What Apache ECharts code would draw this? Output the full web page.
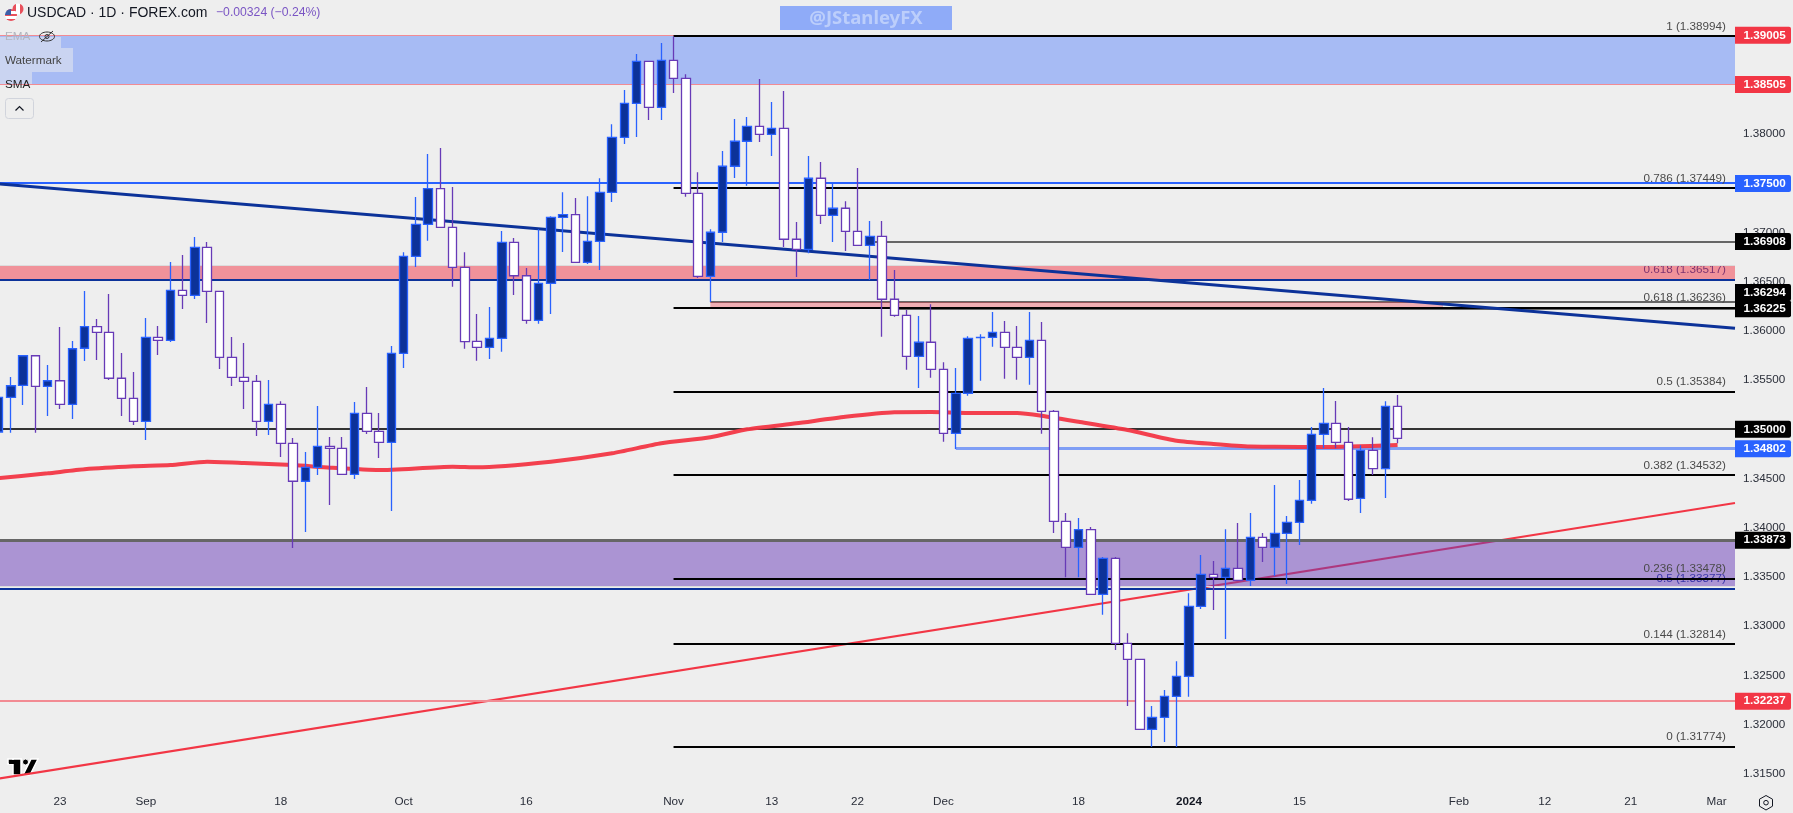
<!DOCTYPE html>
<html>
<head>
<meta charset="utf-8">
<title>USDCAD</title>
<style>
  html, body { margin: 0; padding: 0; background: #eeeeee; }
  #myChart { width: 1793px; height: 813px; }
</style>
<script src="https://cdn.jsdelivr.net/npm/echarts@6/dist/echarts.min.js"></script>
</head>
<body>
<div id="myChart"></div>
<script>
// daily bars, first one is 2023-08-16
const opens = [1.34973,1.35325,1.35447,1.35748,1.35437,1.35494,1.35254,1.35824,1.36043,1.35986,1.35519,1.35315,1.35081,1.35935,1.35905,1.36413,1.36362,1.36850,1.36403,1.35732,1.35529,1.35488,1.35081,1.35254,1.34858,1.34472,1.34614,1.34827,1.34807,1.34543,1.35163,1.34980,1.34868,1.35773,1.36759,1.37084,1.37446,1.37053,1.36647,1.35895,1.35834,1.35925,1.36901,1.36561,1.36108,1.36484,1.37155,1.37182,1.36698,1.36911,1.37409,1.37968,1.38314,1.38741,1.38273,1.38751,1.38568,1.37399,1.36555,1.37003,1.37674,1.37928,1.38080,1.37999,1.38060,1.36932,1.36830,1.37552,1.37175,1.37247,1.37013,1.36870,1.36962,1.36322,1.36159,1.35742,1.35885,1.35610,1.34959,1.35366,1.35933,1.35935,1.35986,1.35834,1.35732,1.35905,1.35183,1.34065,1.33801,1.33980,1.33323,1.33689,1.32825,1.32662,1.31951,1.32073,1.32286,1.32489,1.33201,1.33526,1.33496,1.33587,1.33465,1.33902,1.33801,1.33943,1.34055,1.34278,1.34949,1.35061,1.34868,1.34299,1.34787,1.34600,1.35234];
const closes = [1.35325,1.35443,1.35748,1.35437,1.35494,1.35254,1.35819,1.36043,1.35986,1.35519,1.35315,1.35081,1.35935,1.35905,1.36413,1.36362,1.36850,1.36403,1.35732,1.35529,1.35488,1.35081,1.35254,1.34858,1.34472,1.34614,1.34827,1.34807,1.34543,1.35163,1.34980,1.34868,1.35773,1.36759,1.37084,1.37446,1.37053,1.36647,1.35891,1.35834,1.35925,1.36901,1.36561,1.36108,1.36484,1.37155,1.37182,1.36698,1.36911,1.37409,1.37968,1.38314,1.38741,1.38273,1.38751,1.38568,1.37399,1.36555,1.37003,1.37674,1.37928,1.38080,1.37999,1.38060,1.36932,1.36830,1.37552,1.37175,1.37247,1.37013,1.36870,1.36962,1.36322,1.36159,1.35742,1.35885,1.35610,1.34959,1.35366,1.35925,1.35935,1.35986,1.35834,1.35732,1.35905,1.35183,1.34065,1.33801,1.33980,1.33323,1.33689,1.32825,1.32662,1.31951,1.32073,1.32286,1.32489,1.33201,1.33526,1.33496,1.33587,1.33465,1.33902,1.33801,1.33943,1.34055,1.34278,1.34949,1.35061,1.34868,1.34289,1.34787,1.34600,1.35234,1.34909];
const lows = [1.34891,1.34966,1.35247,1.34966,1.35135,1.35207,1.35105,1.35694,1.35705,1.35501,1.35135,1.35044,1.34891,1.35755,1.35888,1.36223,1.36325,1.36081,1.35613,1.35440,1.35207,1.34932,1.34942,1.34719,1.33794,1.33956,1.34536,1.34231,1.34543,1.34495,1.34952,1.34708,1.34170,1.35623,1.36650,1.36917,1.37053,1.36450,1.35819,1.35697,1.35715,1.35789,1.36365,1.36074,1.36074,1.36172,1.36802,1.36698,1.36680,1.36619,1.37311,1.37900,1.37971,1.38144,1.38144,1.38419,1.37364,1.36538,1.36294,1.36904,1.37555,1.37476,1.37921,1.37778,1.36853,1.36548,1.36789,1.37087,1.36904,1.36813,1.36870,1.36518,1.35941,1.36145,1.35606,1.35420,1.35525,1.34874,1.34800,1.35342,1.35494,1.35840,1.35514,1.35504,1.35453,1.34955,1.33946,1.33496,1.33496,1.33323,1.33115,1.32757,1.32188,1.31951,1.31774,1.31822,1.31774,1.32282,1.33174,1.33163,1.32869,1.33465,1.33407,1.33651,1.33509,1.33428,1.33824,1.34244,1.34807,1.34807,1.34271,1.34149,1.34536,1.34302,1.34858];
const highs = [1.35450,1.35532,1.35748,1.35748,1.35654,1.36040,1.35898,1.36406,1.36121,1.36375,1.35776,1.35583,1.36132,1.36050,1.36701,1.36772,1.36955,1.36904,1.36403,1.35938,1.35877,1.35552,1.35501,1.35285,1.34912,1.34769,1.35237,1.34922,1.34922,1.35278,1.35430,1.35166,1.35847,1.36799,1.37361,1.37799,1.37860,1.37463,1.36799,1.36172,1.36243,1.37016,1.36945,1.36640,1.37033,1.37165,1.37409,1.37351,1.37369,1.37552,1.38100,1.38449,1.38815,1.38741,1.38927,1.38994,1.38609,1.37613,1.37033,1.37829,1.38154,1.38175,1.38561,1.38327,1.38439,1.37107,1.37778,1.37717,1.37497,1.37318,1.37656,1.37118,1.37118,1.36619,1.36213,1.36152,1.36271,1.35681,1.35623,1.35945,1.35966,1.36193,1.36101,1.36050,1.36193,1.36091,1.35196,1.34149,1.34099,1.34007,1.33702,1.33702,1.32926,1.32662,1.32188,1.32350,1.32642,1.33333,1.33722,1.33661,1.33984,1.34048,1.34149,1.33946,1.34434,1.34119,1.34485,1.35024,1.35420,1.35288,1.35024,1.34837,1.34919,1.35285,1.35349];

// 200 day average, read at these bars
const smaBars = [-0.5,4,7,11,14,17,20,24,27,31,37,39,45,50,54,58,61,65,69,73,76,79,83,85,88,92,96,99,102,104,108,114];
const smaValues = [1.34497,1.34553,1.34594,1.34624,1.34637,1.34671,1.34658,1.34637,1.34610,1.34586,1.34620,1.34614,1.34671,1.34756,1.34858,1.34919,1.35000,1.35061,1.35128,1.35174,1.35176,1.35166,1.35166,1.35138,1.35077,1.34993,1.34884,1.34851,1.34825,1.34823,1.34820,1.34841];

const downTrendBars = [-0.5, 141.5];
const downTrendValues = [1.37500, 1.36027];
const upTrendBars = [-0.5, 141.5];
const upTrendValues = [1.31440, 1.34251];

const fibRatios = ['1','0.786','0.618','0.5','0.382','0.236','0.144','0'];
const fibPrices = [1.38994,1.37449,1.36236,1.35384,1.34532,1.33478,1.32814,1.31774];
const fibStartBar = 55;
const fib2Ratios = ['0.618','0.5'];
const fib2Prices = [1.36517,1.33377];

const salmonThin = [1.39005,1.38505];
const salmonThick = [1.32237];
const blueLevel = [1.37500];
const darkLevel = [1.35000];
const grayPrices = [1.36908,1.36294,1.36225];
const grayStarts = [71,58,73];
const grayThick = [1.33873];
const lightLevel = [1.34802];
const lightStart = [78];

const tagsRed = [1.39005,1.38505,1.32237];
const tagsBlue = [1.37500,1.34802];
const tagsBlack = [1.36908,1.36294,1.36225,1.35000,1.33873];

const yTicks = [1.315,1.32,1.325,1.33,1.335,1.34,1.345,1.35,1.355,1.36,1.365,1.37,1.375,1.38,1.385,1.39];
const tickLabels = {
  '2023-08-23':'23','2023-09-01':'Sep','2023-09-18':'18','2023-10-02':'Oct','2023-10-16':'16','2023-11-01':'Nov',
  '2023-11-13':'13','2023-11-22':'22','2023-12-01':'Dec','2023-12-18':'18','2024-01-02':'2024','2024-01-15':'15',
  '2024-02-01':'Feb','2024-02-12':'12','2024-02-21':'21','2024-03-01':'Mar'
};
const closedDays = ['2023-12-25','2024-01-01'];

const FONT = '"Liberation Sans", Arial, sans-serif';
const LAST = 141.5;

function makeDays(start, n){
  let out = [];
  let d = new Date(start + 'T00:00:00Z');
  while(out.length < n){
    let s = d.toISOString().substring(0,10);
    let wd = d.getUTCDay();
    if(wd !== 0 && wd !== 6 && closedDays.indexOf(s) < 0) out.push(s);
    d = new Date(d.getTime() + 86400000);
  }
  return out;
}
const categories = makeDays('2023-08-16', 142);

function levels(name, prices, starts, color, width, z){
  return {
    name: name, type: 'custom', xAxisIndex: 1, yAxisIndex: 0, z: z, silent: true, clip: true,
    data: prices.map((p,i) => [starts[i], p]),
    renderItem(params, api){
      let a = api.coord([api.value(0), api.value(1)]);
      let b = api.coord([LAST, api.value(1)]);
      // a filled strip keeps the rows crisp
      let y = Math.round(a[1] - width / 2);
      return {type:'rect', shape:{x:a[0], y:y, width:b[0]-a[0], height:width}, style:{fill:color}};
    }
  };
}
function zone(name, start, end, top, bottom, color, z){
  return {
    name: name, type: 'custom', xAxisIndex: 1, yAxisIndex: 0, z: z, silent: true, clip: true,
    data: [[start, end, top, bottom]],
    renderItem(params, api){
      let a = api.coord([api.value(0), api.value(2)]);
      let b = api.coord([api.value(1), api.value(3)]);
      return {type:'rect', shape:{x:a[0], y:a[1], width:b[0]-a[0], height:b[1]-a[1]}, style:{fill:color}};
    }
  };
}
function fibTexts(name, ratios, prices, color, z){
  return {
    name: name, type: 'custom', xAxisIndex: 1, yAxisIndex: 0, z: z, silent: true,
    data: prices.map(p => [LAST, p]),
    renderItem(params, api){
      let a = api.coord([LAST, api.value(1)]);
      let i = params.dataIndex;
      return {type:'text', style:{
        text: ratios[i] + ' (' + prices[i].toFixed(5) + ')',
        x: a[0] - 9, y: a[1] - 10, align:'right', verticalAlign:'middle',
        font: '11.7px ' + FONT, fill: color
      }};
    }
  };
}
function priceTags(name, prices, color){
  return {
    name: name, type: 'custom', xAxisIndex: 1, yAxisIndex: 0, z: 20, silent: true,
    data: prices.map(p => [LAST, p]),
    renderItem(params, api){
      let a = api.coord([LAST, api.value(1)]);
      let txt = prices[params.dataIndex].toFixed(5);
      // two tags would overlap here, the upper one gets pushed up
      let y = txt === '1.36294' ? a[1] - 9.5 : a[1];
      return {type:'group', children:[
        {type:'rect', shape:{x:a[0], y:y-8.5, width:56, height:17, r:[0,2,2,0]}, style:{fill:color}},
        {type:'text', style:{text:txt, x:a[0]+8.5, y:y, align:'left', verticalAlign:'middle',
          font:'bold 11.7px ' + FONT, fill:'#ffffff'}}
      ]};
    }
  };
}

let candleData = opens.map((o,i) => [o, closes[i], lows[i], highs[i]]);

let option = {
  backgroundColor: '#eeeeee',
  animation: false,
  grid: {left: -7.5, top: 0, width: 1742.5, height: 783, containLabel: false, outerBoundsMode: 'none'},
  xAxis: [{
    type: 'category', data: categories, boundaryGap: true,
    axisLine: {show:false}, axisTick: {show:false}, splitLine: {show:false},
    axisLabel: {
      interval: (i, v) => tickLabels[v] !== undefined,
      formatter: (v) => tickLabels[v] === '2024' ? '{b|2024}' : (tickLabels[v] || ''),
      color: '#2a2e39', fontFamily: FONT, fontSize: 11.7, margin: 13,
      rich: {b: {fontWeight:'bold', color:'#131722', fontFamily: FONT, fontSize: 11.7}}
    }
  },{
    type: 'value', min: -0.5, max: LAST, show: false, splitLine: {show:false}
  }],
  yAxis: [{
    type: 'value', position: 'right', min: 1.31405, max: 1.39364, scale: true,
    axisLine: {show:false}, axisTick: {show:false}, splitLine: {show:false},
    axisLabel: {
      customValues: yTicks,
      formatter: (v) => v.toFixed(5),
      color: '#2a2e39', fontFamily: FONT, fontSize: 11.7, margin: 8
    }
  }],
  series: [
    {name:'upTrend', type:'line', xAxisIndex:1, z:2, silent:true, showSymbol:false,
      lineStyle:{color:'#f23645', width:2}, data: upTrendBars.map((b,i) => [b, upTrendValues[i]])},
    fibTexts('fib2Text', fib2Ratios, fib2Prices, '#0c3299', 2),
    zone('blueZone', -0.5, LAST, 1.39005, 1.38505, 'rgba(41,98,255,0.36)', 3),
    zone('redZone', -0.5, LAST, 1.36665, 1.36517, 'rgba(242,54,69,0.5)', 3),
    zone('purpleZone', -0.5, LAST, 1.33873, 1.33407, 'rgba(103,58,183,0.5)', 3),
    levels('paleEdges', [1.36668,1.33402], [-0.5,-0.5], '#dcdcdc', 1, 3),
    levels('grayLevels', grayPrices, grayStarts, '#666666', 2, 3),
    levels('grayThick', grayThick, [-0.5], '#666666', 3, 4),
    zone('redZone2', 58, 117.7, 1.36294, 1.36225, 'rgba(242,54,69,0.35)', 3),
    levels('salmon', salmonThin, [-0.5,-0.5], '#f28b93', 1, 4),
    levels('salmon2', salmonThick, [-0.5], '#f28b93', 2, 4),
    levels('blue', blueLevel, [-0.5], '#2962ff', 2, 4),
    levels('dark', darkLevel, [-0.5], '#333333', 2, 4),
    levels('light', lightLevel, lightStart, '#7f9ef5', 3, 4),
    levels('fib2', fib2Prices, [-0.5,-0.5], '#0c3299', 2, 4),
    levels('fib', fibPrices, fibPrices.map(() => fibStartBar), '#000000', 2, 5),
    {name:'SMA', type:'line', xAxisIndex:1, z:5, silent:true, showSymbol:false, smooth:0.2,
      lineStyle:{color:'#f23645', width:4, opacity:0.95}, data: smaBars.map((b,i) => [b, smaValues[i]])},
    {name:'downTrend', type:'line', xAxisIndex:1, z:6, silent:true, showSymbol:false,
      lineStyle:{color:'#0c3299', width:3}, data: downTrendBars.map((b,i) => [b, downTrendValues[i]])},
    {name:'USDCAD', type:'candlestick', xAxisIndex:0, z:10, silent:true, barWidth:9,
      itemStyle:{color:'#0c3299', color0:'#ffffff', borderColor:'#2962ff', borderColor0:'#673ab7', borderWidth:1.3},
      data: candleData},
    fibTexts('fibText', fibRatios, fibPrices, '#4a4a4a', 7),
    priceTags('tagsRed', tagsRed, '#f23645'),
    priceTags('tagsBlue', tagsBlue, '#2962ff'),
    priceTags('tagsBlack', tagsBlack, '#000000')
  ],
  graphic: [
    // header
    {type:'circle', z:100, shape:{cx:18,cy:9,r:5.5}, style:{fill:{type:'linear',x:0,y:0,x2:1,y2:0,colorStops:[
      {offset:0,color:'#e8505b'},{offset:0.28,color:'#e8505b'},{offset:0.28,color:'#fff'},{offset:0.72,color:'#fff'},{offset:0.72,color:'#e8505b'},{offset:1,color:'#e8505b'}]}}},
    {type:'circle', z:101, shape:{cx:11,cy:15,r:6}, style:{fill:{type:'linear',x:0,y:0,x2:0,y2:1,colorStops:[
      {offset:0,color:'#e8505b'},{offset:0.2,color:'#e8505b'},{offset:0.2,color:'#fff'},{offset:0.4,color:'#fff'},{offset:0.4,color:'#e8505b'},{offset:0.6,color:'#e8505b'},{offset:0.6,color:'#fff'},{offset:0.8,color:'#fff'},{offset:0.8,color:'#e8505b'},{offset:1,color:'#e8505b'}]}}},
    {type:'sector', z:102, shape:{cx:11,cy:15,r:6,r0:0,startAngle:Math.PI,endAngle:Math.PI*1.5}, style:{fill:'#3c5fa8'}},
    {type:'text', z:100, style:{text:'USDCAD · 1D · FOREX.com', x:27, y:13, verticalAlign:'middle', font:'14px '+FONT, fill:'#131722'}},
    {type:'text', z:100, style:{text:'−0.00324 (−0.24%)', x:216, y:13, verticalAlign:'middle', font:'12.2px '+FONT, fill:'#7a55c4'}},
    // pine legend
    {type:'rect', z:100, shape:{x:0,y:37,width:61,height:11}, style:{fill:'rgba(238,238,238,0.5)'}},
    {type:'rect', z:100, shape:{x:0,y:48,width:73,height:24}, style:{fill:'rgba(238,238,238,0.5)'}},
    {type:'rect', z:100, shape:{x:0,y:72,width:32,height:12}, style:{fill:'rgba(238,238,238,0.5)'}},
    {type:'text', z:101, style:{text:'EMA', x:5, y:36.5, verticalAlign:'middle', font:'11.7px '+FONT, fill:'#b2b5be'}},
    {type:'ellipse', z:101, shape:{cx:47,cy:36.5,rx:7.5,ry:4.5}, style:{fill:null, stroke:'#333', lineWidth:1}},
    {type:'circle', z:101, shape:{cx:47,cy:36.5,r:2}, style:{fill:null, stroke:'#333', lineWidth:1}},
    {type:'line', z:101, shape:{x1:41,y1:42,x2:53,y2:31}, style:{stroke:'#333', lineWidth:1}},
    {type:'text', z:101, style:{text:'Watermark', x:5, y:60.5, verticalAlign:'middle', font:'11.7px '+FONT, fill:'#444'}},
    {type:'text', z:101, style:{text:'SMA', x:5, y:85, verticalAlign:'middle', font:'11.7px '+FONT, fill:'#222'}},
    {type:'rect', z:100, shape:{x:5.5,y:98.5,width:28,height:20,r:3}, style:{fill:'#eeeeee', stroke:'#d1d4dc', lineWidth:1}},
    {type:'polyline', z:101, shape:{points:[[15.5,110.5],[19.5,106.5],[23.5,110.5]]}, style:{fill:null, stroke:'#131722', lineWidth:1.2}},
    // twitter handle box
    {type:'rect', z:100, shape:{x:780,y:6,width:172,height:24}, style:{fill:'#8fabf8'}},
    {type:'text', z:101, style:{text:'@JStanleyFX', x:866, y:18.5, align:'center', verticalAlign:'middle', font:'bold 18.5px "Noto Sans", sans-serif', fill:'#bccefb'}},
    // logo
    {type:'group', z:100, children:[
      {type:'rect', shape:{x:8,y:759,width:13,height:5}, style:{fill:'#000', stroke:'#fff', lineWidth:1.5}},
      {type:'rect', shape:{x:13,y:759,width:8,height:16}, style:{fill:'#000', stroke:'#fff', lineWidth:1.5}},
      {type:'rect', shape:{x:9,y:760,width:11,height:4}, style:{fill:'#000'}},
      {type:'circle', shape:{cx:25.5,cy:762,r:3}, style:{fill:'#000', stroke:'#fff', lineWidth:1}},
      {type:'polygon', shape:{points:[[31,759],[38,759],[30,775],[23,775]]}, style:{fill:'#000', stroke:'#fff', lineWidth:1.5}}
    ]},
    // settings
    {type:'polygon', z:100, shape:{points:[[1766,795.5],[1772.5,799.2],[1772.5,806.2],[1766,810],[1759.5,806.2],[1759.5,799.2]]}, style:{fill:null, stroke:'#131722', lineWidth:1}},
    {type:'circle', z:100, shape:{cx:1766,cy:802.7,r:2.3}, style:{fill:null, stroke:'#131722', lineWidth:1}}
  ]
};

let myChart = echarts.init(document.getElementById('myChart'));
myChart.setOption(option);
</script>
</body>
</html>
